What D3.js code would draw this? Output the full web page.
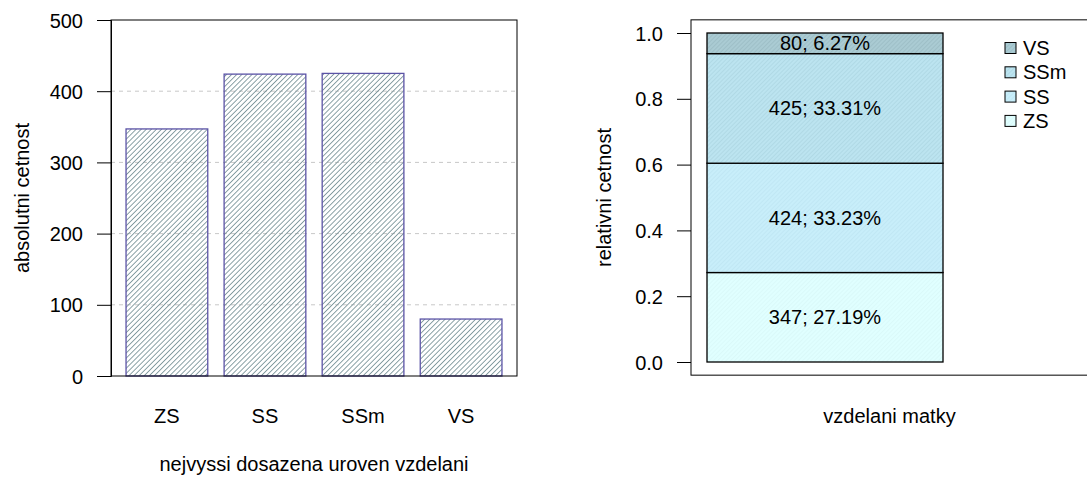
<!DOCTYPE html>
<html lang="en">
<head>
<meta charset="utf-8">
<title>vzdelani matky</title>
<script src="https://cdn.jsdelivr.net/npm/d3@7"></script>
<style type="text/css">
  body { margin: 0; background: #fff; }
  svg text { font-family: "Liberation Sans", Arial, sans-serif; font-size: 20px; fill: #000; }
</style>
</head>
<body>
<div id="chart"></div>
<script type="text/javascript">

// data
var categories = ["ZS", "SS", "SSm", "VS"];
var counts = [347, 424, 425, 80];
var yTicksAbs = [0, 100, 200, 300, 400, 500];
var gridAbs = [100, 200, 300, 400];
var yTicksRel = [0, 0.2, 0.4, 0.6, 0.8, 1.0];
var segColors = ["#e0ffff", "#c8eefa", "#bce4f0", "#aacbd3"];
var segLines = ["#d4f4f4", "#b9e0ee", "#a5cfdb", "#92b3bc"];

var W = 1087, H = 480;
var svg = d3.select("#chart").append("svg")
    .attr("width", W).attr("height", H);

var defs = svg.append("defs");

// hatch for the left bars
var hp = defs.append("pattern")
    .attr("id", "hatch")
    .attr("patternUnits", "userSpaceOnUse")
    .attr("width", 3.6).attr("height", 3.6)
    .attr("patternTransform", "rotate(45)");
hp.append("line")
    .attr("x1", 0).attr("y1", 0).attr("x2", 0).attr("y2", 3.6)
    .attr("stroke", "#6f8b90").attr("stroke-width", 1.6);

// faint texture for stacked segments
segColors.forEach(function(c, i) {
  var p = defs.append("pattern")
      .attr("id", "seg" + i)
      .attr("patternUnits", "userSpaceOnUse")
      .attr("width", 3).attr("height", 3)
      .attr("patternTransform", "rotate(45)");
  p.append("rect").attr("width", 3).attr("height", 3).attr("fill", c);
  p.append("line")
      .attr("x1", 0).attr("y1", 0).attr("x2", 0).attr("y2", 3)
      .attr("stroke", segLines[i]).attr("stroke-width", 1);
});

// ---------- left: absolute counts ----------
var L = {left: 111, right: 517, top: 20, bottom: 376};

// R barplot layout: width 1, space 0.2
var xL = d3.scaleLinear()
    .domain([0.2 - 0.184, 4.8 + 0.184])
    .range([L.left, L.right]);
var yL = d3.scaleLinear().domain([0, 500]).range([L.bottom, L.top]);

var left = svg.append("g");

left.selectAll(".grid")
    .data(gridAbs)
    .enter().append("line")
    .attr("x1", L.left).attr("x2", L.right)
    .attr("y1", function(d) { return yL(d); })
    .attr("y2", function(d) { return yL(d); })
    .attr("stroke", "#c8c8c8").attr("stroke-dasharray", "4,4");

left.selectAll(".bar")
    .data(counts)
    .enter().append("rect")
    .attr("x", function(d, i) { return xL(0.2 + i * 1.2); })
    .attr("width", xL(1) - xL(0))
    .attr("y", function(d) { return yL(d); })
    .attr("height", function(d) { return yL(0) - yL(d); })
    .attr("fill", "url(#hatch)")
    .attr("stroke", "#5b53a6").attr("stroke-width", 1.3);

left.append("rect")
    .attr("x", L.left).attr("y", L.top)
    .attr("width", L.right - L.left).attr("height", L.bottom - L.top)
    .attr("fill", "none").attr("stroke", "#000");

var yAxisL = d3.axisLeft(yL).tickValues(yTicksAbs).tickSize(14).tickPadding(14);
left.append("g")
    .attr("transform", "translate(" + L.left + ",0)")
    .call(yAxisL)
    .call(function(g) {
      g.selectAll("text").style("font-size", "20px").attr("font-family", null).attr("dy", "0.35em");
      g.select(".domain").attr("stroke", "#000");
    });

left.selectAll(".xlab")
    .data(categories)
    .enter().append("text")
    .attr("x", function(d, i) { return xL(0.7 + i * 1.2); })
    .attr("y", 423)
    .attr("text-anchor", "middle")
    .text(function(d) { return d; });

left.append("text")
    .attr("x", (L.left + L.right) / 2).attr("y", 471)
    .attr("text-anchor", "middle")
    .text("nejvyssi dosazena uroven vzdelani");

left.append("text")
    .attr("transform", "translate(29," + (L.top + L.bottom) / 2 + ") rotate(-90)")
    .attr("text-anchor", "middle")
    .text("absolutni cetnost");

// ---------- right: relative stacked ----------
var total = d3.sum(counts);
var stackData = [];
var acc = 0;
counts.forEach(function(c, i) {
  stackData.push({cat: categories[i], n: c, y0: acc / total, y1: (acc + c) / total});
  acc += c;
});

var R = {left: 691, right: 1088};
var yR = d3.scaleLinear().domain([0, 1]).range([362, 33]);
var xR = d3.scaleLinear().domain([0.2, 1.2]).range([707, 943]);

var right = svg.append("g");

right.selectAll(".seg")
    .data(stackData)
    .enter().append("rect")
    .attr("x", xR(0.2)).attr("width", xR(1.2) - xR(0.2))
    .attr("y", function(d) { return yR(d.y1); })
    .attr("height", function(d) { return yR(d.y0) - yR(d.y1); })
    .attr("fill", function(d, i) { return "url(#seg" + i + ")"; })
    .attr("stroke", "#000").attr("stroke-width", 1.3);

right.selectAll(".seglab")
    .data(stackData)
    .enter().append("text")
    .attr("x", xR(0.7))
    .attr("y", function(d) { return yR((d.y0 + d.y1) / 2); })
    .attr("dy", "0.35em")
    .attr("text-anchor", "middle")
    .text(function(d) { return d.n + "; " + (100 * d.n / total).toFixed(2) + "%"; });

right.append("rect")
    .attr("x", R.left).attr("y", yR(1.04))
    .attr("width", R.right - R.left).attr("height", yR(-0.04) - yR(1.04))
    .attr("fill", "none").attr("stroke", "#000");

var yAxisR = d3.axisLeft(yR).tickValues(yTicksRel).tickFormat(d3.format(".1f"))
    .tickSize(14).tickPadding(14);
right.append("g")
    .attr("transform", "translate(" + R.left + ",0)")
    .call(yAxisR)
    .call(function(g) {
      g.selectAll("text").style("font-size", "20px").attr("font-family", null).attr("dy", "0.35em");
      g.select(".domain").remove();
    });

right.append("text")
    .attr("x", (R.left + R.right) / 2).attr("y", 423)
    .attr("text-anchor", "middle")
    .text("vzdelani matky");

right.append("text")
    .attr("transform", "translate(611," + (yR(1.04) + yR(-0.04)) / 2 + ") rotate(-90)")
    .attr("text-anchor", "middle")
    .text("relativni cetnost");

// legend, top item is last category
var legend = right.selectAll(".leg")
    .data(stackData.slice().reverse())
    .enter().append("g")
    .attr("transform", function(d, i) { return "translate(1005," + (48 + i * 24.3) + ")"; });

legend.append("rect")
    .attr("x", 0).attr("y", -5.5).attr("width", 11).attr("height", 11)
    .attr("fill", function(d) { return "url(#seg" + categories.indexOf(d.cat) + ")"; })
    .attr("stroke", "#000");

legend.append("text")
    .attr("x", 18).attr("dy", "0.35em")
    .text(function(d) { return d.cat; });

</script>
</body>
</html>
